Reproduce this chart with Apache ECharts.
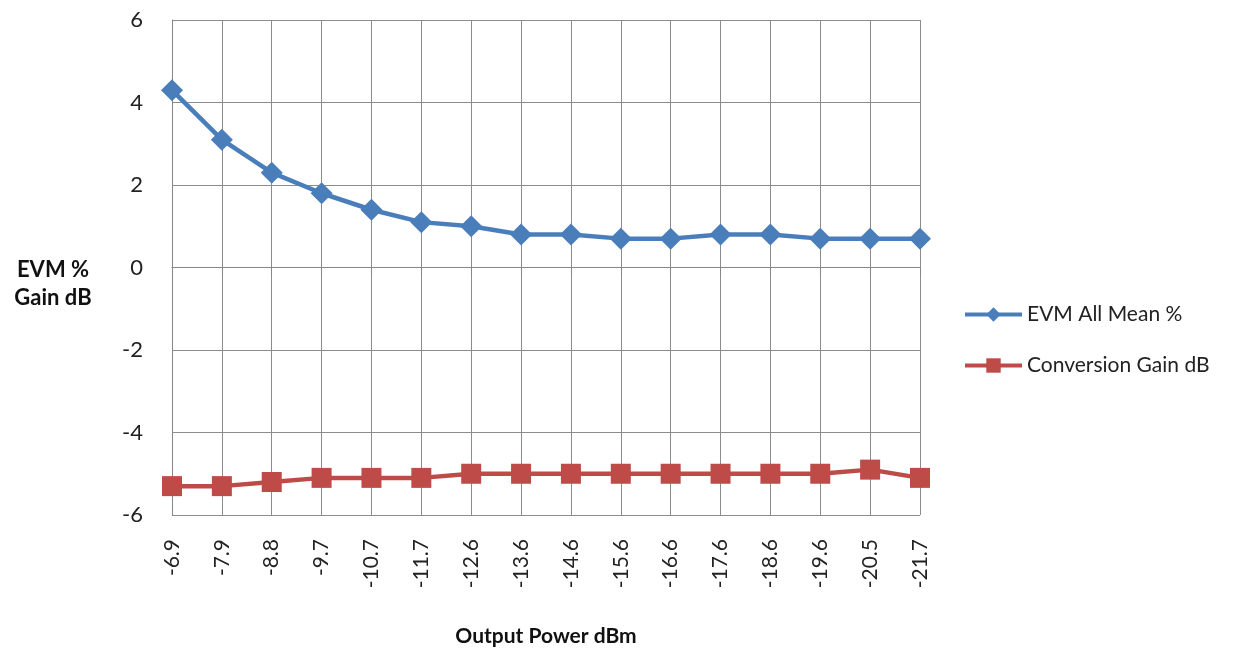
<!DOCTYPE html>
<html>
<head>
<meta charset="utf-8">
<script src="https://cdn.jsdelivr.net/npm/echarts@6/dist/echarts.min.js"></script>
<style>html,body{margin:0;padding:0;background:#fff}#c{width:1246px;height:649px}</style>
</head>
<body>
<div id="c"></div>
<script>
const categories = ['-6.9','-7.9','-8.8','-9.7','-10.7','-11.7','-12.6','-13.6','-14.6','-15.6','-16.6','-17.6','-18.6','-19.6','-20.5','-21.7'];
const evmMean = [4.3, 3.1, 2.3, 1.8, 1.4, 1.1, 1.0, 0.8, 0.8, 0.7, 0.7, 0.8, 0.8, 0.7, 0.7, 0.7];
const convGain = [-5.3, -5.3, -5.2, -5.1, -5.1, -5.1, -5.0, -5.0, -5.0, -5.0, -5.0, -5.0, -5.0, -5.0, -4.9, -5.1];
const yTicks = { min: -6, max: 6, interval: 2 };
const yAxisTitle = 'EVM %\nGain dB';
const xAxisTitle = 'Output Power dBm';

const FONT = 'Lato, "Open Sans", sans-serif';
const chart = echarts.init(document.getElementById('c'), null, { renderer: 'canvas' });
chart.setOption({
  animation: false,
  backgroundColor: '#fff',
  grid: { left: 172, right: 326, top: 20, bottom: 134, containLabel: false, outerBoundsMode: 'none' },
  graphic: [{
    type: 'text', x: 53, y: 256,
    style: { text: yAxisTitle, align: 'center', verticalAlign: 'top', font: 'bold 22px ' + FONT, lineHeight: 28, fill: '#111' }
  }],
  legend: {
    orient: 'vertical', left: 963, top: 304, padding: 0, itemWidth: 57, itemHeight: 18, itemGap: 30,
    lineStyle: { width: 4 },
    textStyle: { fontFamily: FONT, fontSize: 21, color: '#222' },
    data: ['EVM All Mean %', 'Conversion Gain dB']
  },
  xAxis: {
    type: 'category', data: categories, boundaryGap: false,
    name: xAxisTitle, nameLocation: 'middle', nameGap: 111,
    nameTextStyle: { fontFamily: FONT, fontSize: 21, fontWeight: 'bold', color: '#111' },
    axisLine: { lineStyle: { color: '#868686', width: 1 } },
    axisTick: { show: true, length: 8, lineStyle: { color: '#868686' } },
    axisLabel: { rotate: 90, margin: 24, fontFamily: FONT, fontSize: 21, color: '#222', interval: 0 },
    splitLine: { show: true, lineStyle: { color: '#8c8c8c', width: 1 } }
  },
  yAxis: {
    type: 'value', min: yTicks.min, max: yTicks.max, interval: yTicks.interval,
    axisLine: { show: true, lineStyle: { color: '#868686' } },
    axisTick: { show: false },
    axisLabel: { margin: 29, fontFamily: FONT, fontSize: 22, color: '#222' },
    splitLine: { show: true, lineStyle: { color: '#8c8c8c', width: 1 } }
  },
  series: [
    {
      name: 'EVM All Mean %', type: 'line', data: evmMean,
      symbol: 'diamond', symbolSize: 22, showAllSymbol: true,
      lineStyle: { color: '#4a7ebb', width: 4.5 },
      itemStyle: { color: '#4a7ebb' }, z: 3
    },
    {
      name: 'Conversion Gain dB', type: 'line', data: convGain,
      symbol: 'rect', symbolSize: 20, showAllSymbol: true,
      lineStyle: { color: '#be4b48', width: 4.5 },
      itemStyle: { color: '#be4b48' }, z: 3
    }
  ]
});
</script>
</body>
</html>
